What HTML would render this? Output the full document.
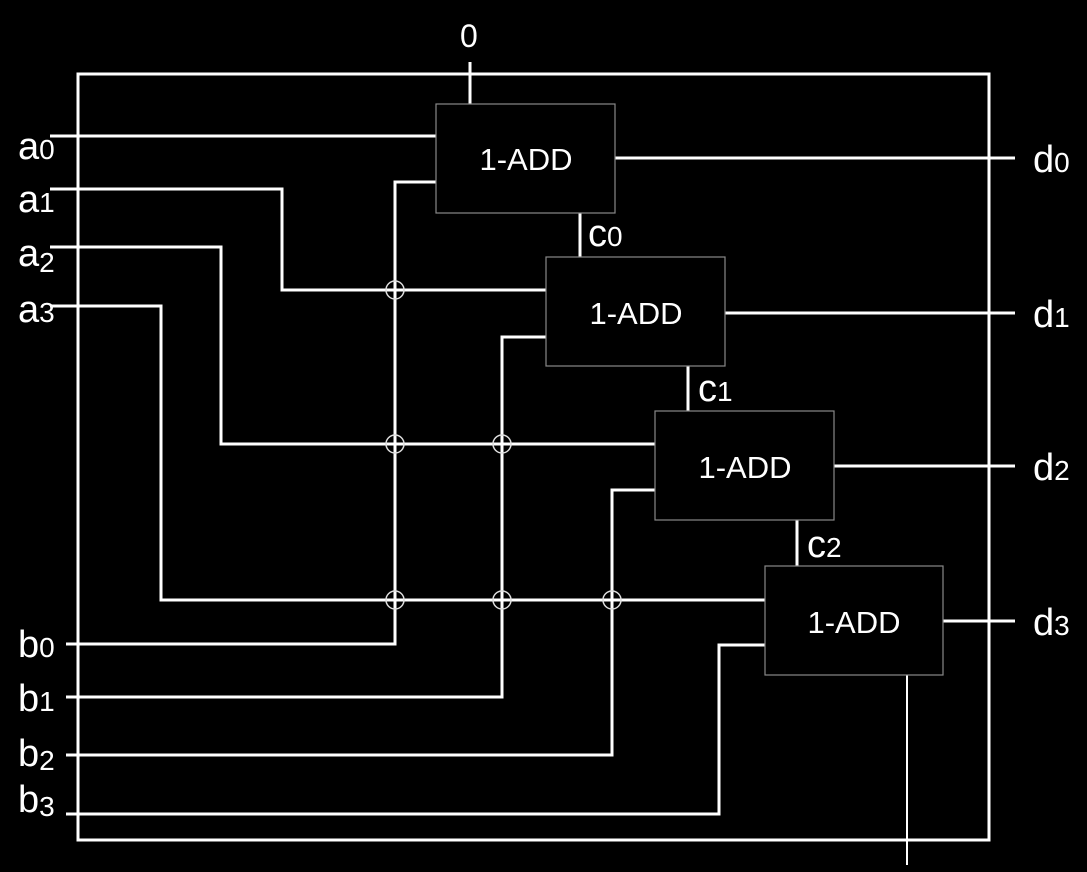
<!DOCTYPE html>
<html><head><style>
html,body{margin:0;padding:0;background:#000;}
svg{display:block}
text{fill:#fff;font-family:"Liberation Sans",sans-serif;}
</style></head><body>
<svg width="1087" height="872" viewBox="0 0 1087 872">
<rect x="0" y="0" width="1087" height="872" fill="#000"/>
<g stroke="#fff" stroke-width="3" fill="none">
<rect x="78" y="74" width="911" height="766"/>
<line x1="470" y1="62" x2="470" y2="104"/>
<polyline points="50,136 436,136"/>
<polyline points="50,189 282,189 282,290 546,290"/>
<polyline points="50,247 221,247 221,444 655,444"/>
<polyline points="50,306 161,306 161,600 765,600"/>
<polyline points="66,644 395,644 395,182 436,182"/>
<polyline points="66,697 502,697 502,337 546,337"/>
<polyline points="66,755 612,755 612,490 655,490"/>
<polyline points="66,814 719,814 719,645 765,645"/>
<line x1="580" y1="213" x2="580" y2="260"/>
<line x1="688" y1="366" x2="688" y2="411"/>
<line x1="797" y1="520" x2="797" y2="566"/>
<line x1="615" y1="158" x2="1015" y2="158"/>
<line x1="725" y1="313" x2="1015" y2="313"/>
<line x1="834" y1="466" x2="1015" y2="466"/>
<line x1="943" y1="621" x2="1015" y2="621"/>
<line x1="907" y1="675" x2="907" y2="865" stroke-width="2"/>
</g>
<g stroke="#ddd" stroke-width="1.5" fill="none">
<circle cx="395" cy="290" r="9"/><circle cx="395" cy="444" r="9"/><circle cx="502" cy="444" r="9"/>
<circle cx="395" cy="600" r="9"/><circle cx="502" cy="600" r="9"/><circle cx="612" cy="600" r="9"/>
</g>
<g stroke="#888" stroke-width="1.2" fill="#000">
<rect x="436" y="104" width="179" height="109"/>
<rect x="546" y="257" width="179" height="109"/>
<rect x="655" y="411" width="179" height="109"/>
<rect x="765" y="566" width="178" height="109"/>
</g>
<g font-size="31" text-anchor="middle">
<text x="526" y="170">1-ADD</text>
<text x="636" y="324">1-ADD</text>
<text x="745" y="478">1-ADD</text>
<text x="854" y="633">1-ADD</text>
</g>
<g font-size="38">
<text x="460" y="47" font-size="32">0</text>
<text x="18" y="159">a<tspan font-size="28">0</tspan></text>
<text x="18" y="212">a<tspan font-size="28">1</tspan></text>
<text x="18" y="266">a<tspan font-size="28" dy="6">2</tspan></text>
<text x="18" y="322">a<tspan font-size="28">3</tspan></text>
<text x="18" y="657">b<tspan font-size="28">0</tspan></text>
<text x="18" y="711">b<tspan font-size="28">1</tspan></text>
<text x="18" y="766">b<tspan font-size="28" dy="4">2</tspan></text>
<text x="18" y="812">b<tspan font-size="28" dy="4">3</tspan></text>
<text x="1033" y="172">d<tspan font-size="28">0</tspan></text>
<text x="1033" y="327">d<tspan font-size="28">1</tspan></text>
<text x="1033" y="480">d<tspan font-size="28">2</tspan></text>
<text x="1033" y="635">d<tspan font-size="28">3</tspan></text>
<text x="588" y="246">c<tspan font-size="28">0</tspan></text>
<text x="698" y="401">c<tspan font-size="28">1</tspan></text>
<text x="807" y="557">c<tspan font-size="28">2</tspan></text>
</g>
</svg>
</body></html>
